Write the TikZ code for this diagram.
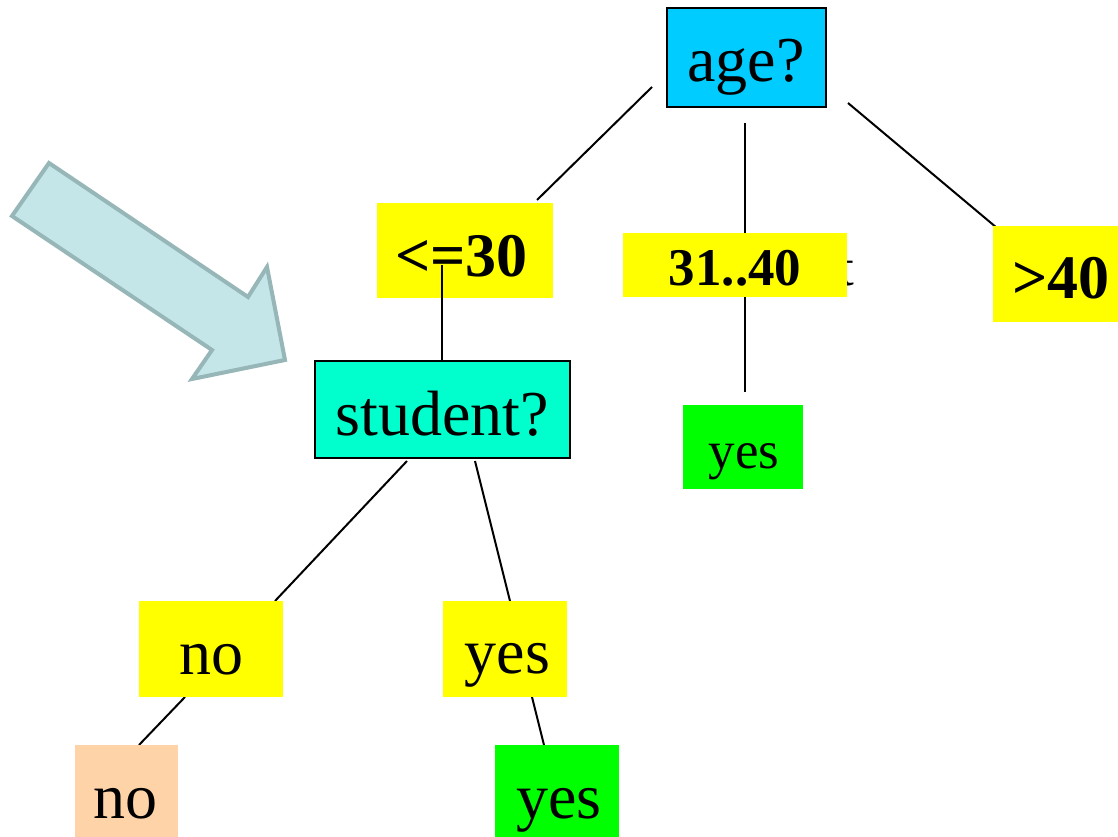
\documentclass[tikz,border=0pt]{standalone}
\usepackage{fontspec}
\setmainfont{Liberation Serif}
\definecolor{agecol}{RGB}{0,204,255}
\definecolor{studcol}{RGB}{0,255,204}
\definecolor{branchcol}{RGB}{255,255,0}
\definecolor{yescol}{RGB}{0,255,0}
\definecolor{nocol}{RGB}{255,211,168}
\definecolor{arrowfill}{RGB}{196,230,232}
\definecolor{arrowedge}{RGB}{150,182,184}
\begin{document}
\begin{tikzpicture}[x=1pt,y=-1pt,
  box/.style={rectangle, inner sep=0pt, outer sep=0pt, draw=none},
  test/.style={box, draw=black, line width=2pt},
  branch/.style={box, fill=branchcol},
  leafyes/.style={box, fill=yescol},
  leafno/.style={box, fill=nocol},
  txt/.style={anchor=base, inner sep=0pt, outer sep=0pt, font=\fontsize{64}{70}\selectfont},
  smalltxt/.style={txt, font=\fontsize{53}{60}\selectfont},
  boldtxt/.style={txt, font=\fontsize{62}{68}\selectfont\bfseries},
  smallbold/.style={txt, font=\fontsize{53}{60}\selectfont\bfseries},
  edge/.style={draw=black, line width=2pt},
  bigarrow/.style={draw=arrowedge, fill=arrowfill, line width=4pt, line join=miter}
]
\useasboundingbox (0,0) rectangle (1118,837);

% pointer arrow
\draw[bigarrow] (49,163) -- (248,297) -- (267,267) -- (285,360) -- (192,379)
  -- (212,350) -- (12,216) -- cycle;

% connector end points
\coordinate (a1) at (652,87);   \coordinate (b1) at (537,200);
\coordinate (a2) at (745,123);  \coordinate (b2) at (745,392);
\coordinate (a3) at (848,103);  \coordinate (b3) at (997,228);
\coordinate (a4) at (442,265);  \coordinate (b4) at (442,362);
\coordinate (a5) at (407,461);  \coordinate (b5) at (275,601);
\coordinate (a6) at (475,461);  \coordinate (b6) at (510,601);
\coordinate (a7) at (185,697);  \coordinate (b7) at (139,745);
\coordinate (a8) at (532,697);  \coordinate (b8) at (544,745);

% branches of the tree
\draw[edge] (a1) -- (b1);
\draw[edge] (a2) -- (b2);
\draw[edge] (a3) -- (b3);
\draw[edge] (a5) -- (b5);
\draw[edge] (a6) -- (b6);
\draw[edge] (a7) -- (b7);
\draw[edge] (a8) -- (b8);

% partly covered glyph behind the middle branch label
\node[smalltxt] (tail) at (846.5,285) {t};

% boxes
\node[test, fill=agecol, minimum width=159pt, minimum height=99pt] (age) at (746.5,57.5) {};
\node[branch, minimum width=176pt, minimum height=95pt] (le30) at (465,250.5) {};
\node[branch, minimum width=224pt, minimum height=64pt] (mid) at (735,265) {};
\node[branch, minimum width=125pt, minimum height=96pt] (gt40) at (1055.5,274) {};
\node[test, fill=studcol, minimum width=255pt, minimum height=97pt] (student) at (442.5,409.5) {};
\node[leafyes, minimum width=120pt, minimum height=84pt] (yesmid) at (743,447) {};
\node[branch, minimum width=144pt, minimum height=96pt] (brno) at (211,649) {};
\node[branch, minimum width=124pt, minimum height=96pt] (bryes) at (505,649) {};
\node[leafno, minimum width=103pt, minimum height=92pt] (leafno) at (126.5,791) {};
\node[leafyes, minimum width=124pt, minimum height=92pt] (leafyes) at (557,791) {};

% labels
\node[txt] (agetxt) at (746,82) {age?};
\node[boldtxt] (le30txt) at (461.5,276) {<=30};
\node[smallbold] (midtxt) at (735,285) {31..40};
\node[boldtxt] (gt40txt) at (1061,298) {>40};
\node[txt] (studenttxt) at (442,435) {student?};
\node[smalltxt] (yesmidtxt) at (744,468) {yes};
\node[txt] (brnotxt) at (211.5,674) {no};
\node[txt] (bryestxt) at (507.5,673) {yes};
\node[txt] (leafnotxt) at (125.5,818) {no};
\node[txt] (leafyestxt) at (559,818) {yes};

% stem from the first branch label down to the student test
\draw[edge] (a4) -- (b4);
\end{tikzpicture}
\end{document}
